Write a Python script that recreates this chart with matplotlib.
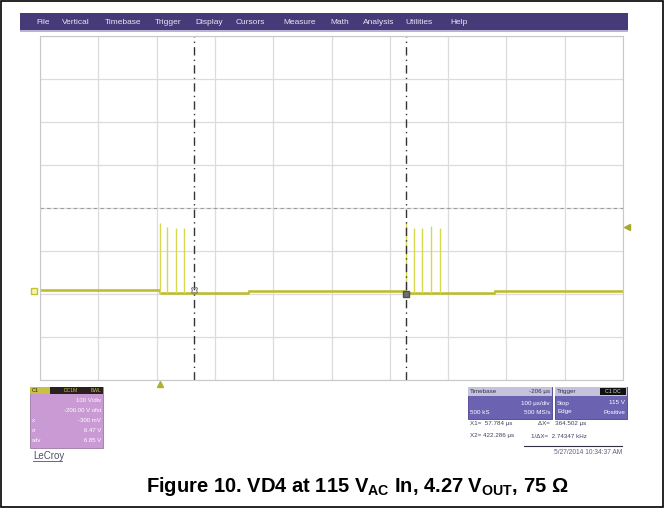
import matplotlib
matplotlib.use("Agg")
import matplotlib.pyplot as plt
from matplotlib.patches import Rectangle

plt.rcParams["font.family"] = ["Liberation Sans", "DejaVu Sans"]
plt.rcParams["mathtext.fontset"] = "custom"
plt.rcParams["mathtext.rm"] = "Liberation Sans:bold"
plt.rcParams["mathtext.bf"] = "Liberation Sans:bold"

# scope settings (100 us/div, 100 V/div, -200 V offset, delay -206 us)
t_left = -206.0
t_right = 794.0
v_bottom = -200.0
v_top = 600.0

# baseline levels (V) between edges (us)
base_edges = [-206, 0, 152, 421, 574, 794]
base_levels = [9, 2, 8, 2, 8]

# switching spikes (us, V peak)
burst1_t = [0, 12.5, 27, 41.5]
burst1_v = [166, 155, 154, 153]
burst2_t = [421, 436, 450, 465, 480]
burst2_v = [167, 153, 153, 158, 153]

cursor_x1 = 57.784
cursor_x2 = 422.286
trigger_level = 156

menu_items = ["File", "Vertical", "Timebase", "Trigger", "Display", "Cursors",
              "Measure", "Math", "Analysis", "Utilities", "Help"]
menu_x = [36, 62, 105, 155, 195, 236, 283, 330, 363, 405, 450]

W, H = 666, 509


def fx(x):
    return x / W


def fy(y):
    return 1 - y / H


def box(x0, y0, x1, y1, **kw):
    # rectangle given in pixel coords (top-left origin)
    fig.patches.append(Rectangle((fx(x0), fy(y1)), fx(x1 - x0), fy(y0) - fy(y1),
                                 transform=fig.transFigure, **kw))


fig = plt.figure(figsize=(W / 100, H / 100), dpi=100)

# outer frame
box(1, 1, 663, 507, fill=False, edgecolor="black", lw=1.2)

# menu bar
box(20, 13, 628, 30, facecolor="#463a78", edgecolor="none")
box(20, 30, 628, 32, facecolor="#b8b4d4", edgecolor="none")
for name, x in zip(menu_items, menu_x):
    fig.text(fx(x), fy(22), name, color="#e8e6f4", fontsize=6, va="center", ha="left")

# scope grid
ax = fig.add_axes([fx(40), fy(380), fx(623 - 40), fy(36) - fy(380)])
ax.set_xlim(t_left, t_right)
ax.set_ylim(v_bottom, v_top)
ax.set_xticks(range(-206, 795, 100))
ax.set_yticks(range(-200, 601, 100))
ax.tick_params(length=0, labelbottom=False, labelleft=False)
ax.grid(True, color="#dcdcdc", lw=0.9)
for s in ax.spines.values():
    s.set_color("#c8c8c8")
ax.axhline(200, color="#9a9a9a", lw=0.8, ls=(0, (3, 3)))

# trace
for i, lvl in enumerate(base_levels):
    ax.plot([base_edges[i], base_edges[i + 1]], [lvl, lvl], color="#bcbc26", lw=1.8,
            solid_capstyle="butt")
    if i > 0:
        ax.plot([base_edges[i], base_edges[i]], [base_levels[i - 1], lvl], color="#bcbc26", lw=1.2)
ax.vlines(burst1_t, 2, burst1_v, color="#d8d850", lw=1.0)
ax.vlines(burst2_t, 2, burst2_v, color="#d8d850", lw=1.0)

# cursors
for cx in (cursor_x1, cursor_x2):
    ax.axvline(cx, color="#333333", lw=1.0, ls=(0, (6, 3, 1, 3)))
ax.plot(cursor_x1, 10, marker="X", ms=5, mfc="none", mec="#808080", mew=0.8)
ax.plot(cursor_x2, 0, marker="s", ms=4, mfc="#707070", mec="#505050")

# channel / trigger markers
ax.plot(t_left - 10, 8, marker="s", ms=5, mfc="#f4f4c0", mec="#c2c22a", clip_on=False)
ax.plot(t_right + 7, trigger_level, marker="<", ms=4, color="#a8a830", clip_on=False)
ax.plot(0, v_bottom - 9, marker="^", ms=4, color="#b0b030", clip_on=False)

# channel info box
box(30, 387, 103, 448, facecolor="#c99ad3", edgecolor="#9a7aa8", lw=0.6)
box(30, 387, 103, 394, facecolor="#2a2020", edgecolor="none")
box(30, 387, 50, 394, facecolor="#c8c040", edgecolor="none")
fig.text(fx(32), fy(390.5), "C1", fontsize=4, color="#222222", va="center")
fig.text(fx(78), fy(390.5), "DC1M", fontsize=3.6, color="#c8c040", va="center", ha="right")
fig.text(fx(101), fy(390.5), "BWL", fontsize=3.6, color="#c8c040", va="center", ha="right")
left_rows = ["100 V/div", "-200.00 V ofst", "-300 mV", "6.47 V", "6.85 V"]
left_labels = ["", "", "x", "σ", "sdv"]
for i, (r, lb) in enumerate(zip(left_rows, left_labels)):
    y = 400 + i * 10
    fig.text(fx(101), fy(y), r, fontsize=4.3, color="white", va="center", ha="right")
    fig.text(fx(32), fy(y), lb, fontsize=4.3, color="white", va="center", ha="left")
fig.text(fx(33), fy(456), "LeCroy", fontsize=7, color="#505068", va="center", ha="left")
fig.lines.append(plt.Line2D([fx(33), fx(62)], [fy(461), fy(461)], transform=fig.transFigure,
                            color="#505068", lw=0.6))

# timebase / trigger boxes
for x0, x1 in ((468, 552), (555, 627)):
    box(x0, 387, x1, 419, facecolor="#6c62b2", edgecolor="#4a4090", lw=0.6)
    box(x0, 387, x1, 396, facecolor="#c6c2dc", edgecolor="none")
box(600, 388, 626, 395, facecolor="#111111", edgecolor="none")
fig.text(fx(613), fy(391.5), "C1 DC", fontsize=3.8, color="#dddddd", va="center", ha="center")
fig.text(fx(470), fy(391.5), "Timebase", fontsize=4.5, color="#303050", va="center")
fig.text(fx(550), fy(391.5), "-206 µs", fontsize=4.5, color="#303050", va="center", ha="right")
fig.text(fx(557), fy(391.5), "Trigger", fontsize=4.5, color="#303050", va="center")
fig.text(fx(550), fy(403), "100 µs/div", fontsize=4.5, color="white", va="center", ha="right")
fig.text(fx(470), fy(412), "500 kS", fontsize=4.5, color="white", va="center")
fig.text(fx(550), fy(412), "500 MS/s", fontsize=4.5, color="white", va="center", ha="right")
fig.text(fx(557), fy(403), "Stop", fontsize=4.5, color="white", va="center")
fig.text(fx(625), fy(403), "115 V", fontsize=4.5, color="white", va="center", ha="right")
fig.text(fx(557), fy(412), "Edge", fontsize=4.5, color="white", va="center")
fig.text(fx(625), fy(412), "Positive", fontsize=4.5, color="white", va="center", ha="right")

# cursor readouts
fig.text(fx(470), fy(424), "X1=  57.784 µs", fontsize=4.5, color="#404060", va="center")
fig.text(fx(538), fy(424), "ΔX=   364.502 µs", fontsize=4.5, color="#404060", va="center")
fig.text(fx(470), fy(436), "X2= 422.286 µs", fontsize=4.5, color="#404060", va="center")
fig.text(fx(531), fy(436), "1/ΔX=  2.74347 kHz", fontsize=4.5, color="#404060", va="center")
fig.lines.append(plt.Line2D([fx(524), fx(622)], [fy(446), fy(446)], transform=fig.transFigure,
                            color="#303040", lw=0.8))
fig.text(fx(622), fy(452), "5/27/2014 10:34:37 AM", fontsize=4.8, color="#606080", va="center", ha="right")

# caption
fig.text(fx(357), fy(487),
         r"Figure 10. VD4 at 115 V$_{\mathbf{AC}}$ In, 4.27 V$_{\mathbf{OUT}}$, 75 Ω",
         fontsize=14.5, fontweight="bold", ha="center", va="center", color="black")

fig.savefig("out.png", dpi=100)
